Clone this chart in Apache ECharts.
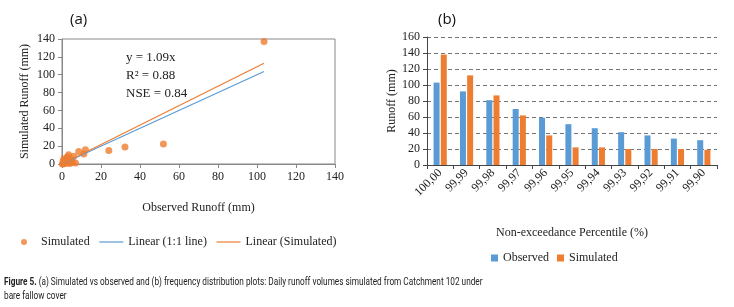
<!DOCTYPE html>
<html>
<head>
<meta charset="utf-8">
<script src="https://cdn.jsdelivr.net/npm/echarts@6/dist/echarts.min.js"></script>
<style>
    html, body { margin: 0; padding: 0; background: #fff; }
    #chart { width: 734px; height: 307px; }
</style>
</head>
<body>
<div id="chart"></div>
<script>
// (a) simulated vs observed daily runoff (mm)
const observedRunoff = [103.6, 52, 32.3, 24, 12, 11.2, 8.6, 6, 3.4, 2.6, 6.9, 0.9, 0.5, 1, 1.5, 2, 2, 3, 4, 5, 4, 1, 0.2, 2.8, 3.5, 5.5, 1.2, 0.6];
const simulatedRunoff = [137.3, 22.4, 19, 15, 16, 11.2, 14, 8.6, 10.4, 6.7, 1, 1, 0.5, 2, 3, 4, 1, 2, 3, 5, 0.5, 6, 0.1, 8, 1.5, 2, 0.3, 3.5];
const lineEnds = [0, 103.6];
const slope11 = 1;
const slopeSim = 1.09;

// (b) frequency distribution
const percentiles = ['100,00', '99,99', '99,98', '99,97', '99,96', '99,95', '99,94', '99,93', '99,92', '99,91', '99,90'];
const observedFreq = [103, 92, 81, 70, 59, 51, 46, 41, 37, 33, 31];
const simulatedFreq = [138, 112, 87, 62, 37, 22, 22, 20, 20, 20, 19];

const blue = '#5B9BD5';
const orange = '#ED7D31';
const serif = 'Liberation Serif';

const scatterData = observedRunoff.map((x, i) => [x, simulatedRunoff[i]]);
const line11 = lineEnds.map(x => [x, x * slope11]);
const lineSim = lineEnds.map(x => [x, x * slopeSim]);

const chart = echarts.init(document.getElementById('chart'));

const valueAxis = (gridIndex, extra) => Object.assign({
    type: 'value',
    gridIndex: gridIndex,
    min: 0,
    max: 140,
    interval: 20,
    nameLocation: 'middle',
    nameTextStyle: { fontFamily: serif, fontSize: 12, color: '#222' },
    axisLine: { show: true, lineStyle: { color: '#888' } },
    axisTick: { show: true, length: 4, lineStyle: { color: '#888' } },
    axisLabel: { fontFamily: serif, fontSize: 12, color: '#222', margin: 7 },
    splitLine: { show: false }
}, extra);

chart.setOption({
    animation: false,
    grid: [
        { left: 62, right: 399, top: 39, bottom: 143, show: true, borderColor: '#888', borderWidth: 1 },
        { left: 427, right: 17, top: 37, bottom: 142 }
    ],
    xAxis: [
        valueAxis(0, { name: 'Observed Runoff (mm)', nameGap: 38 }),
        {
            type: 'category',
            gridIndex: 1,
            data: percentiles,
            name: 'Non-exceedance Percentile (%)',
            nameLocation: 'middle',
            nameGap: 62,
            nameTextStyle: { fontFamily: serif, fontSize: 12, color: '#222' },
            axisLine: { lineStyle: { color: '#444' } },
            axisTick: { show: true, length: 4, lineStyle: { color: '#444' } },
            axisLabel: { fontFamily: serif, fontSize: 12, color: '#222', rotate: 45, margin: 6, interval: 0 }
        }
    ],
    yAxis: [
        valueAxis(0, { name: 'Simulated Runoff (mm)', nameGap: 31 }),
        {
            type: 'value',
            gridIndex: 1,
            min: 0,
            max: 160,
            interval: 20,
            name: 'Runoff (mm)',
            nameLocation: 'middle',
            nameGap: 27,
            nameTextStyle: { fontFamily: serif, fontSize: 12, color: '#222' },
            axisLine: { show: true, lineStyle: { color: '#444' } },
            axisTick: { show: true, length: 4, lineStyle: { color: '#444' } },
            axisLabel: { fontFamily: serif, fontSize: 12, color: '#222', margin: 7 },
            splitLine: { show: true, lineStyle: { color: '#777', type: [4, 3] } }
        }
    ],
    legend: [
        {
            left: 16,
            top: 231,
            itemGap: 9,
            itemWidth: 24,
            itemHeight: 6,
            textStyle: { fontFamily: serif, fontSize: 12, color: '#222' },
            data: [
                { name: 'Simulated', icon: 'circle', itemStyle: { color: orange } },
                { name: 'Linear (1:1 line)', itemStyle: { opacity: 0 }, lineStyle: { color: blue, width: 1.2 } },
                { name: 'Linear (Simulated)', itemStyle: { opacity: 0 }, lineStyle: { color: orange, width: 1.2 } }
            ]
        },
        {
            left: 486,
            top: 247,
            itemGap: 8,
            itemWidth: 7,
            itemHeight: 7,
            textStyle: { fontFamily: serif, fontSize: 12, color: '#222' },
            formatter: name => name.replace(' (b)', ''),
            data: [
                { name: 'Observed', icon: 'rect' },
                { name: 'Simulated (b)', icon: 'rect' }
            ]
        }
    ],
    series: [
        {
            name: 'Simulated',
            type: 'scatter',
            xAxisIndex: 0,
            yAxisIndex: 0,
            symbolSize: 7,
            itemStyle: { color: orange },
            data: scatterData
        },
        {
            name: 'Linear (1:1 line)',
            type: 'line',
            xAxisIndex: 0,
            yAxisIndex: 0,
            symbol: 'none',
            lineStyle: { color: blue, width: 1.2 },
            itemStyle: { color: blue },
            data: line11
        },
        {
            name: 'Linear (Simulated)',
            type: 'line',
            xAxisIndex: 0,
            yAxisIndex: 0,
            symbol: 'none',
            lineStyle: { color: orange, width: 1.2 },
            itemStyle: { color: orange },
            data: lineSim
        },
        {
            name: 'Observed',
            type: 'bar',
            xAxisIndex: 1,
            yAxisIndex: 1,
            barWidth: 6,
            barGap: '20%',
            itemStyle: { color: blue },
            data: observedFreq
        },
        {
            name: 'Simulated (b)',
            type: 'bar',
            xAxisIndex: 1,
            yAxisIndex: 1,
            barWidth: 6,
            itemStyle: { color: orange },
            data: simulatedFreq
        }
    ],
    graphic: [
        { type: 'text', left: 70, top: 12, style: { text: '(a)', font: '15px "Open Sans"', fill: '#111' } },
        { type: 'text', left: 438, top: 12, style: { text: '(b)', font: '15px "Open Sans"', fill: '#111' } },
        {
            type: 'text', left: 126, top: 49,
            style: {
                text: 'y = 1.09x\nR² = 0.88\nNSE = 0.84',
                font: '13px "Liberation Serif"', fill: '#222', align: 'center', lineHeight: 18
            }
        },
        {
            type: 'text', x: 4, y: 275, scaleX: 0.785,
            style: {
                text: '{b|Figure 5.} (a) Simulated vs observed and (b) frequency distribution plots: Daily runoff volumes simulated from Catchment 102 under\nbare fallow cover',
                font: '10.5px "Roboto"', fill: '#222', lineHeight: 14,
                rich: { b: { font: 'bold 10.5px "Roboto"', fill: '#222' } }
            }
        }
    ]
});
</script>
</body>
</html>
